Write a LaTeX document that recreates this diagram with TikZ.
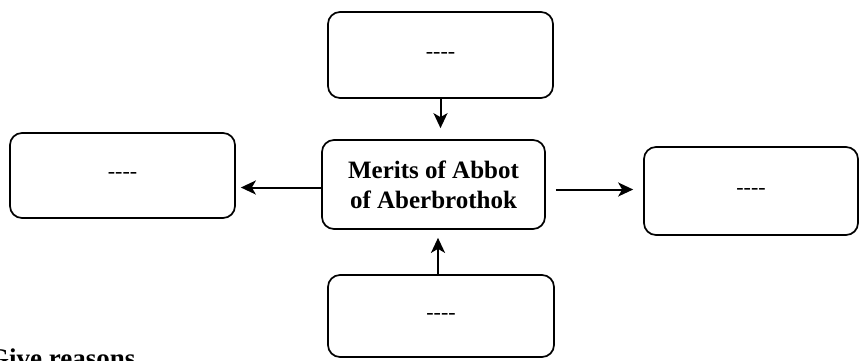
\documentclass[tikz,border=0pt]{standalone}
\usepackage{fontspec}
\setmainfont{Liberation Serif}
\usetikzlibrary{positioning, calc}
\usetikzlibrary{arrows.meta}

\begin{document}
\begin{tikzpicture}[x=1pt,y=-1pt,
                box/.style={draw, line width=1.7pt, rounded corners=12pt, inner sep=0pt,
                        font=\fontsize{22}{24}\selectfont},
                arr/.style={-{Stealth[length=15pt,width=14pt,inset=4pt]}, line width=2pt}]
                \useasboundingbox (0,0) rectangle (862,360);

                \node[box, minimum width=225pt, minimum height=86pt] (top) at (440.5,55) {-{}-{}-{}-};
                \node[box, minimum width=223pt, minimum height=89pt, align=center,
                        font=\bfseries\fontsize{25}{30}\selectfont] (mid) at (433.5,184.5) {Merits of Abbot\\of Aberbrothok};
                \node[box, minimum width=225pt, minimum height=85pt] (left) at (122.5,175.5) {-{}-{}-{}-};
                \node[box, minimum width=214pt, minimum height=88pt] (right) at (751,191) {-{}-{}-{}-};
                \node[box, minimum width=226pt, minimum height=82pt] (bottom) at (441,316) {-{}-{}-{}-};

                \draw[arr, shorten >=11pt] (top.south) -- (top.south |- mid.north);
                \draw[arr, shorten >=8pt] (bottom.north -| 438,0) -- (mid.south -| 438,0);
                \draw[arr, shorten >=5pt] ($(mid.west)+(0,3)$) -- ($(mid.west -| left.east)+(0,3)$);
                \draw[arr, shorten <=10pt, shorten >=10pt] ($(mid.east)+(0,5)$) -- ($(mid.east -| right.west)+(0,5)$);

                \node[anchor=base west, inner sep=0pt, font=\bfseries\fontsize{27}{30}\selectfont] (task) at (-12,367) {Give reasons};
            \end{tikzpicture}
\end{document}
